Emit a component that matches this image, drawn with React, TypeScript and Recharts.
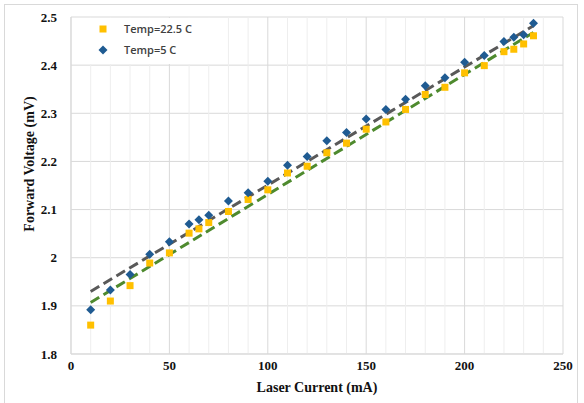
import React from 'react';
import {
  ComposedChart,
  Scatter,
  Line,
  XAxis,
  YAxis,
  CartesianGrid,
  ReferenceLine,
} from 'recharts';

// laser current (mA) shared by both temperature runs
const current = [10, 20, 30, 40, 50, 60, 65, 70, 80, 90, 100, 110, 120, 130, 140, 150, 160, 170, 180, 190, 200, 210, 220, 225, 230, 235];
const temp22 = [1.860, 1.910, 1.942, 1.989, 2.010, 2.051, 2.060, 2.073, 2.096, 2.121, 2.141, 2.176, 2.190, 2.218, 2.238, 2.267, 2.282, 2.308, 2.339, 2.354, 2.384, 2.399, 2.428, 2.433, 2.444, 2.461];
const temp5 = [1.892, 1.933, 1.965, 2.007, 2.033, 2.070, 2.079, 2.088, 2.118, 2.135, 2.159, 2.192, 2.210, 2.243, 2.260, 2.288, 2.308, 2.329, 2.357, 2.374, 2.406, 2.420, 2.449, 2.458, 2.463, 2.487];

// linear trendline end points
const trendX = [10, 235];
const trend22 = [1.907, 2.468];
const trend5 = [1.930, 2.482];

const xTicks = [0, 50, 100, 150, 200, 250];
const minorTicks = [10, 20, 30, 40, 60, 70, 80, 90, 110, 120, 130, 140, 160, 170, 180, 190, 210, 220, 230, 240];
const yTicks = [1.8, 1.9, 2, 2.1, 2.2, 2.3, 2.4, 2.5];

const legendNames = ['Temp=22.5 C', 'Temp=5 C'];

const YELLOW = '#FFC000';
const BLUE = '#1F5B92';
const GRAY = '#595959';
const GREEN = '#4E8A2E';

const series22 = current.map((x, i) => ({ x, y: temp22[i] }));
const series5 = current.map((x, i) => ({ x, y: temp5[i] }));
const line22 = trendX.map((x, i) => ({ x, y: trend22[i] }));
const line5 = trendX.map((x, i) => ({ x, y: trend5[i] }));

const tickStyle = {
  fontFamily: '"Liberation Serif", serif',
  fontWeight: 700,
  fontSize: 13,
  fill: '#111',
};
const titleStyle = { ...tickStyle, fontSize: 14 };

const SquareMark = (props: any) => {
  const { cx, cy } = props;
  if (cx == null || cy == null) return null;
  return <rect x={cx - 3.5} y={cy - 3.5} width={7} height={7} fill={YELLOW} />;
};

const DiamondMark = (props: any) => {
  const { cx, cy } = props;
  if (cx == null || cy == null) return null;
  const r = 4.5;
  return (
    <polygon
      points={`${cx},${cy - r} ${cx + r},${cy} ${cx},${cy + r} ${cx - r},${cy}`}
      fill={BLUE}
    />
  );
};

const LegendBox = () => (
  <div
    style={{
      position: 'absolute',
      left: 76,
      top: 18,
      background: '#fff',
      width: 134,
      height: 46,
      fontFamily: '"Open Sans", sans-serif',
      fontSize: 11,
      fontWeight: 600,
      color: '#404040',
    }}
  >
    <div style={{ position: 'relative', height: 23 }}>
      <svg width={10} height={10} style={{ position: 'absolute', left: 22, top: 6 }}>
        <rect x={1.5} y={1.5} width={7} height={7} fill={YELLOW} />
      </svg>
      <span style={{ position: 'absolute', left: 48, top: 3 }}>{legendNames[0]}</span>
    </div>
    <div style={{ position: 'relative', height: 23 }}>
      <svg width={10} height={10} style={{ position: 'absolute', left: 22, top: 4 }}>
        <polygon points="5,0.5 9.5,5 5,9.5 0.5,5" fill={BLUE} />
      </svg>
      <span style={{ position: 'absolute', left: 48, top: 1 }}>{legendNames[1]}</span>
    </div>
  </div>
);

export default function App() {
  return (
    <div style={{ position: 'absolute', left: 0, top: 0, width: 584, height: 403, background: '#fff' }}>
      <div
        style={{
          position: 'absolute',
          left: 4,
          top: 4,
          width: 574,
          height: 400,
          border: '1px solid #d9d9d9',
          boxSizing: 'border-box',
        }}
      />
      <ComposedChart
        width={584}
        height={403}
        margin={{ top: 17, right: 21, bottom: 0, left: 0 }}
        style={{ position: 'absolute', left: 0, top: 0 }}
      >
        {minorTicks.map((t) => (
          <ReferenceLine key={t} x={t} stroke="#eeeeee" strokeWidth={1} />
        ))}
        <CartesianGrid stroke="#d9d9d9" strokeWidth={1} />
        <XAxis
          type="number"
          dataKey="x"
          domain={[0, 250]}
          ticks={xTicks}
          height={49}
          stroke="#d9d9d9"
          tickLine={false}
          tickSize={0}
          tickMargin={7}
          tick={tickStyle}
          label={{
            value: 'Laser Current (mA)',
            position: 'insideBottom',
            offset: 11,
            style: { ...titleStyle, textAnchor: 'middle' },
          }}
        />
        <YAxis
          type="number"
          dataKey="y"
          domain={[1.8, 2.5]}
          ticks={yTicks}
          width={71}
          stroke="#d9d9d9"
          tickLine={false}
          tickSize={0}
          tickMargin={14}
          tick={tickStyle}
          label={{
            content: () => (
              <text
                x={31}
                y={164}
                transform="rotate(-90 31 164)"
                textAnchor="middle"
                dominantBaseline="middle"
                style={titleStyle}
              >
                Forward Voltage (mV)
              </text>
            ),
          }}
        />
        <Scatter name={legendNames[0]} data={series22} shape={SquareMark} isAnimationActive={false} />
        <Scatter name={legendNames[1]} data={series5} shape={DiamondMark} isAnimationActive={false} />
        <Line
          data={line5}
          dataKey="y"
          stroke={GRAY}
          strokeWidth={3}
          strokeDasharray="10 5"
          dot={false}
          activeDot={false}
          isAnimationActive={false}
        />
        <Line
          data={line22}
          dataKey="y"
          stroke={GREEN}
          strokeWidth={3}
          strokeDasharray="10 5"
          dot={false}
          activeDot={false}
          isAnimationActive={false}
        />
      </ComposedChart>
      <LegendBox />
    </div>
  );
}
